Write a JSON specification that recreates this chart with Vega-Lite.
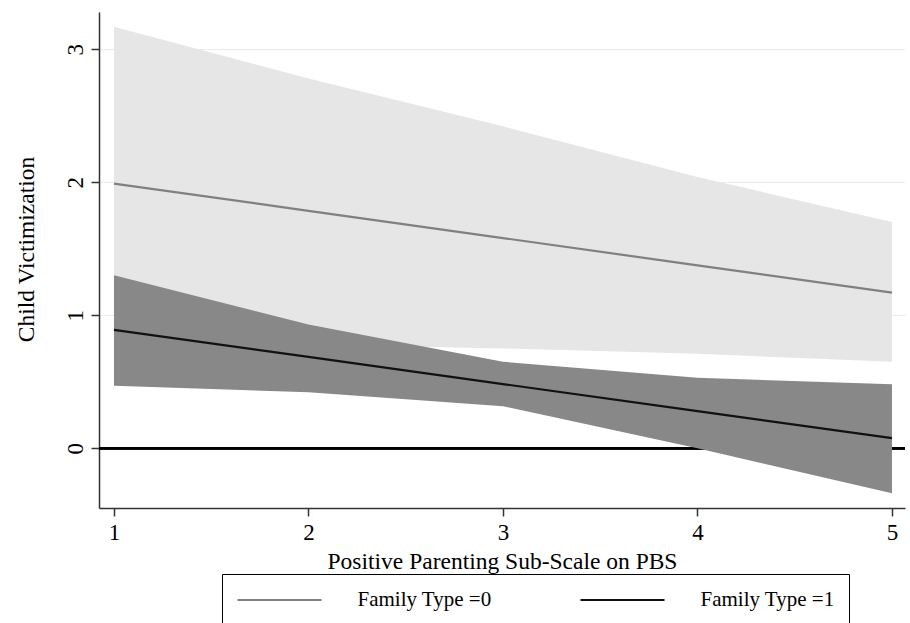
{
  "$schema": "https://vega.github.io/schema/vega-lite/v6.json",
  "width": 806,
  "height": 496,
  "autosize": {"type": "none"},
  "padding": {"left": 99, "top": 12, "right": 5, "bottom": 115},
  "background": "white",
  "config": {
    "font": "Liberation Serif",
    "view": {"stroke": null},
    "axis": {
      "domainColor": "#333333",
      "domainWidth": 1.5,
      "tickColor": "#333333",
      "tickWidth": 1.5,
      "tickSize": 8,
      "labelColor": "black",
      "labelFont": "Liberation Serif",
      "labelFontSize": 23,
      "titleFont": "Liberation Serif",
      "titleFontSize": 23.5,
      "titleFontWeight": "normal",
      "titleColor": "black"
    }
  },
  "data": {
    "values": [
      {"x": 1, "group": "Family Type =0", "est": 1.99, "lo": 0.80, "hi": 3.17},
      {"x": 2, "group": "Family Type =0", "est": 1.785, "lo": 0.78, "hi": 2.78},
      {"x": 3, "group": "Family Type =0", "est": 1.58, "lo": 0.75, "hi": 2.42},
      {"x": 4, "group": "Family Type =0", "est": 1.375, "lo": 0.71, "hi": 2.04},
      {"x": 5, "group": "Family Type =0", "est": 1.17, "lo": 0.65, "hi": 1.70},
      {"x": 1, "group": "Family Type =1", "est": 0.89, "lo": 0.47, "hi": 1.30},
      {"x": 2, "group": "Family Type =1", "est": 0.686, "lo": 0.42, "hi": 0.93},
      {"x": 3, "group": "Family Type =1", "est": 0.482, "lo": 0.315, "hi": 0.65},
      {"x": 4, "group": "Family Type =1", "est": 0.279, "lo": 0.0, "hi": 0.53},
      {"x": 5, "group": "Family Type =1", "est": 0.075, "lo": -0.34, "hi": 0.48}
    ]
  },
  "encoding": {
    "x": {
      "field": "x",
      "type": "quantitative",
      "scale": {"domain": [0.923, 5.067], "nice": false, "zero": false},
      "axis": {
        "values": [1, 2, 3, 4, 5],
        "format": "d",
        "grid": false,
        "title": "Positive Parenting Sub-Scale on PBS",
        "labelPadding": 5,
        "titleY": 53,
        "titleBaseline": "middle",
        "titlePadding": 0
      }
    }
  },
  "layer": [
    {
      "mark": {"type": "rule", "color": "black", "strokeWidth": 2},
      "encoding": {"y": {"datum": 0, "type": "quantitative"}, "x": null}
    },
    {
      "transform": [{"filter": "datum.group === 'Family Type =0'"}],
      "mark": {"type": "area", "color": "#e6e6e6", "opacity": 1},
      "encoding": {
        "y": {"field": "lo", "type": "quantitative"},
        "y2": {"field": "hi"}
      }
    },
    {
      "transform": [{"filter": "datum.group === 'Family Type =1'"}],
      "mark": {"type": "area", "color": "#888888", "opacity": 1},
      "encoding": {
        "y": {"field": "lo", "type": "quantitative"},
        "y2": {"field": "hi"}
      }
    },
    {
      "mark": {"type": "line", "strokeWidth": 2.2},
      "encoding": {
        "y": {
          "field": "est",
          "type": "quantitative",
          "scale": {"domain": [-0.45, 3.28], "nice": false, "zero": false},
          "axis": {
            "values": [0, 1, 2, 3],
            "format": "d",
            "grid": true,
            "gridColor": "#ebebeb",
            "gridWidth": 1.2,
            "labelAngle": -90,
            "labelAlign": "center",
            "labelBaseline": "bottom",
            "labelPadding": 4,
            "title": "Child Victimization",
            "titleAngle": -90,
            "titleX": -73,
            "titleY": 237,
            "titleAlign": "center",
            "titleBaseline": "middle"
          }
        },
        "color": {
          "field": "group",
          "type": "nominal",
          "scale": {"domain": ["Family Type =0", "Family Type =1"], "range": ["#808080", "#111111"]},
          "legend": {
            "title": null,
            "orient": "none",
            "legendX": 123,
            "legendY": 562,
            "direction": "horizontal",
            "strokeColor": "black",
            "padding": 14,
            "symbolType": "M-4,0H4",
            "symbolSize": 441,
            "symbolStrokeWidth": 2.2,
            "symbolOffset": 31.5,
            "labelOffset": 66,
            "columnPadding": 84,
            "labelFont": "Liberation Serif",
            "labelFontSize": 21,
            "labelColor": "black",
            "labelLimit": 400
          }
        }
      }
    }
  ],
  "resolve": {"scale": {"y": "shared"}}
}
